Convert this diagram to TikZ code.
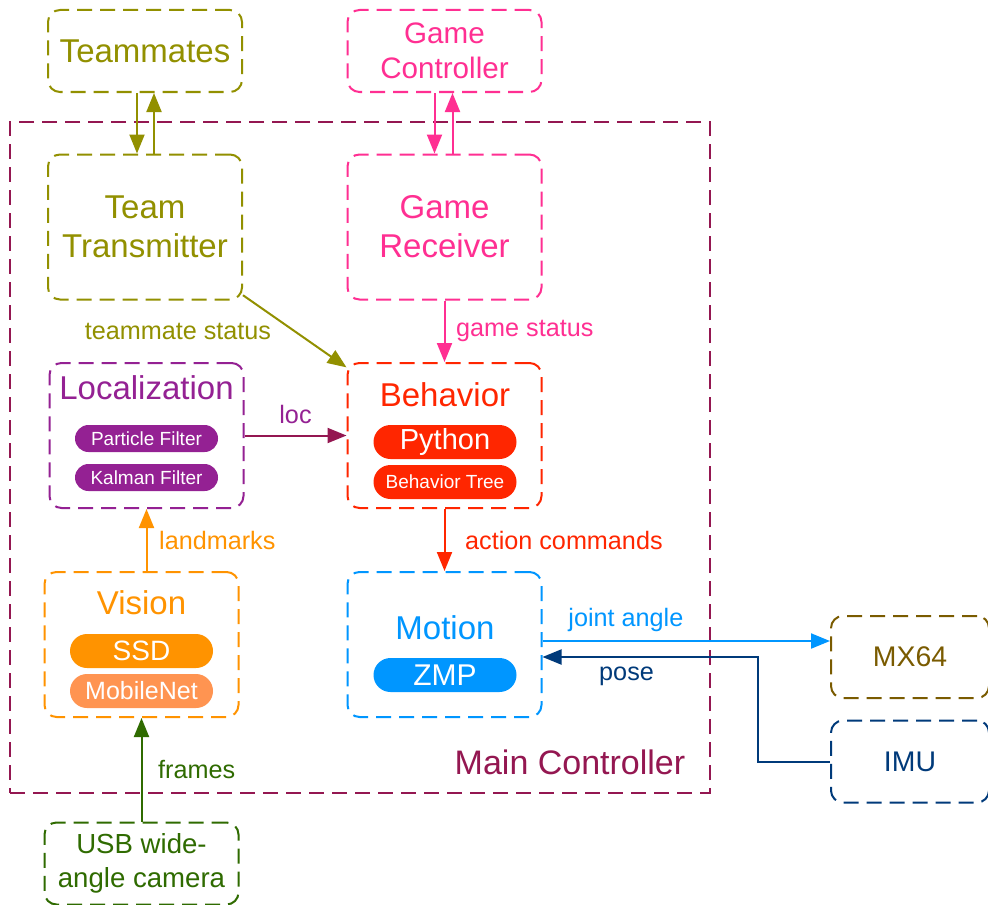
\documentclass[tikz,border=0pt]{standalone}
\usepackage{fontspec}
\setmainfont{Liberation Sans}
\usetikzlibrary{arrows.meta}

\definecolor{mateolive}{HTML}{929000}
\definecolor{gamepink}{HTML}{FF2F92}
\definecolor{locplum}{HTML}{942193}
\definecolor{behred}{HTML}{FF2600}
\definecolor{visorange}{HTML}{FF9300}
\definecolor{netorange}{HTML}{FF9451}
\definecolor{motblue}{HTML}{0096FF}
\definecolor{mxbrown}{HTML}{7A5B00}
\definecolor{imunavy}{HTML}{003A7A}
\definecolor{camgreen}{HTML}{2F6B00}
\definecolor{mainmaroon}{HTML}{941751}

\begin{document}
\begin{tikzpicture}[x=0.5pt, y=-0.5pt,
    module/.style={draw, line width=1pt, dash pattern=on 7.5pt off 4pt, rounded corners=6pt, minimum width=97pt, minimum height=72.5pt, inner sep=0pt, align=center, font=\fontsize{16.5}{19.5}\selectfont},
    small/.style={minimum height=41pt},
    device/.style={module, small, minimum width=79pt, font=\fontsize{14.2}{17}\selectfont},
    title/.style={font=\fontsize{16.5}{19.5}\selectfont, inner sep=0pt},
    pill/.style={fill, rounded corners=8.5pt, minimum width=71.5pt, minimum height=17pt, inner sep=0pt, text=white, font=\fontsize{14.5}{17}\selectfont},
    thin pill/.style={pill, rounded corners=6.75pt, minimum height=13.5pt, font=\fontsize{9.5}{11}\selectfont},
    link/.style={-{Triangle[length=9.5pt, width=7.5pt]}, line width=1pt},
    lbl/.style={font=\fontsize{12.6}{15}\selectfont}
]
\fill[white] (0,0) rectangle (988,904);
\useasboundingbox (0,0) rectangle (988,904);

% Rahmen des Hauptcontrollers
\node[draw, mainmaroon, line width=1pt, dash pattern=on 7.5pt off 4pt, minimum width=350pt, minimum height=335.5pt, inner sep=0pt] (main) at (360,457.5) {};
\node[mainmaroon, font=\fontsize{17}{20}\selectfont] (mainlabel) at (570,762) {Main Controller};

% Module
\node[module, small, mateolive] (mates) at (145,51) {Teammates};
\node[module, small, gamepink, font=\fontsize{14.8}{17.5}\selectfont] (ctrl) at (444.5,51) {Game\\Controller};
\node[module, mateolive] (trans) at (145,227) {Team\\Transmitter};
\node[module, gamepink] (recv) at (444.5,227) {Game\\Receiver};

\node[module, locplum] (loc) at (146.5,435.5) {};
\node[title, locplum] (loctitle) at (146.5,388) {Localization};
\node[thin pill, fill=locplum] (pf) at (146.5,438.5) {Particle Filter};
\node[thin pill, fill=locplum] (kf) at (146.5,477.5) {Kalman Filter};

\node[module, behred] (beh) at (444.5,435.5) {};
\node[title, behred] (behtitle) at (445,395) {Behavior};
\node[pill, fill=behred] (py) at (445,442) {Python};
\node[pill, fill=behred, font=\fontsize{9.5}{11}\selectfont] (tree) at (445,482) {Behavior Tree};

\node[module, visorange] (vis) at (141.5,644.5) {};
\node[title, visorange] (vistitle) at (141.5,603) {Vision};
\node[pill, fill=visorange, font=\fontsize{14}{17}\selectfont] (ssd) at (141.5,651) {SSD};
\node[pill, fill=netorange, font=\fontsize{12.5}{15}\selectfont] (mnet) at (141.5,691) {MobileNet};

\node[module, motblue] (mot) at (444.5,644.5) {};
\node[title, motblue] (mottitle) at (445,628) {Motion};
\node[pill, fill=motblue, font=\fontsize{15}{17}\selectfont] (zmp) at (445,675) {ZMP};

\node[device, mxbrown] (mx) at (910,657) {MX64};
\node[device, imunavy] (imu) at (910,761.5) {IMU};
\node[module, small, camgreen, font=\fontsize{13.8}{17}\selectfont] (cam) at (141.5,863.5) {USB wide-\\angle camera};

% Verbindungen
\draw[link, mateolive] ([xshift=-4pt]mates.south) -- ([xshift=-4pt]trans.north);
\draw[link, mateolive] ([xshift=4.5pt]trans.north) -- ([xshift=4.5pt]mates.south);
\draw[link, gamepink] ([xshift=-5pt]ctrl.south) -- ([xshift=-5pt]recv.north);
\draw[link, gamepink] ([xshift=4pt]recv.north) -- ([xshift=4pt]ctrl.south);
\draw[link, mateolive] (trans) -- node[lbl, midway, left=8pt] {teammate status} (beh);
\draw[link, gamepink] (recv) -- node[lbl, midway, right=2pt] {game status} (beh);
\draw[link, mainmaroon] (loc) -- node[lbl, midway, above=2pt, text=locplum] {loc} (beh);
\draw[link, visorange] (loc.south |- vis.north) -- node[lbl, midway, right=2.5pt] {landmarks} (loc.south);
\draw[link, behred] (beh) -- node[lbl, midway, right=6.5pt] {action commands} (mot);
\draw[link, motblue] ([yshift=1.75pt]mot.east) -- node[lbl, pos=0.29, above=1pt] {joint angle} ([yshift=1.75pt]mot.east -| mx.west);
\coordinate (bend) at (758,657);
\draw[link, imunavy] (imu.west) -| (bend) -- node[lbl, pos=0.61, below=1pt] {pose} ([yshift=-6.25pt]mot.east);
\draw[link, camgreen] (cam) -- node[lbl, midway, right=4.5pt] {frames} (vis);

\end{tikzpicture}
\end{document}
